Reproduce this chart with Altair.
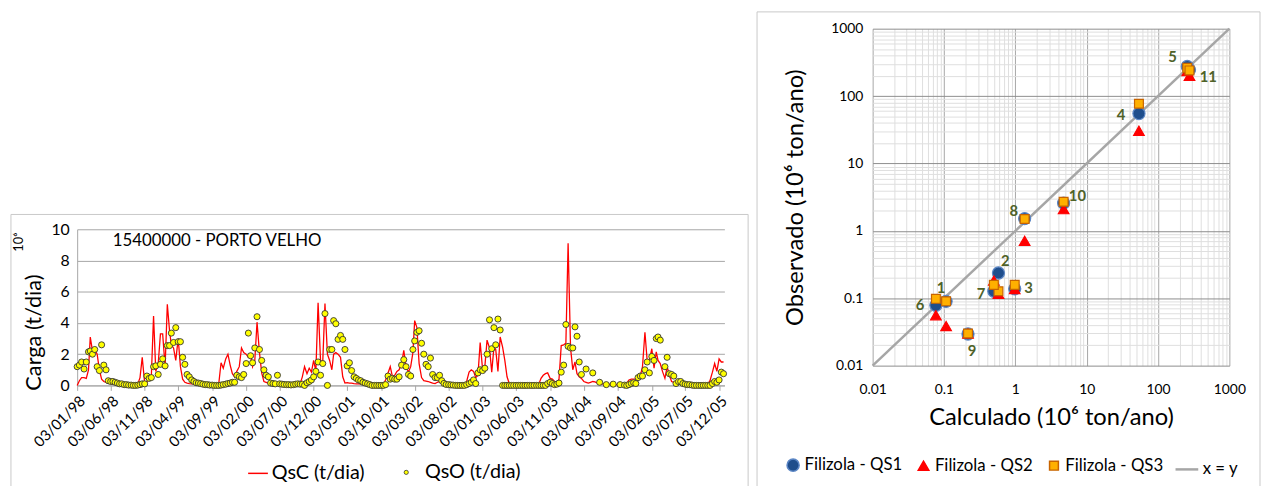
import altair as alt
import pandas as pd

# ---------------- Left chart: daily load, Porto Velho ----------------
station_title = "15400000 - PORTO VELHO"
exp_label = "10\u2076"
tick_labels = ["03/01/98", "03/06/98", "03/11/98", "03/04/99", "03/09/99", "03/02/00",
               "03/07/00", "03/12/00", "03/05/01", "03/10/01", "03/03/02", "03/08/02",
               "03/01/03", "03/06/03", "03/11/03", "03/04/04", "03/09/04", "03/02/05",
               "03/07/05", "03/12/05"]

# QsC (calculated), three readings per month (days 3, 13, 23), 10^6 t/dia
qsc_1998 = [0.0, 0.3, 0.5, 0.5, 0.45, 1.0, 3.1, 2.2, 2.3, 2.0, 1.0, 0.4,
            0.25, 0.2, 0.15, 0.12, 0.1, 0.1, 0.08, 0.06, 0.05, 0.05, 0.05, 0.05,
            0.05, 0.05, 0.08, 0.1, 0.5, 1.8, 0.15, 0.2, 0.55, 0.6, 4.45, 0.9]
qsc_1999 = [1.4, 3.3, 3.3, 1.2, 5.2, 3.5, 2.6, 2.4, 1.6, 3.0, 1.2, 0.4,
            0.2, 0.15, 0.12, 0.1, 0.1, 0.08, 0.08, 0.06, 0.05, 0.05, 0.05, 0.05,
            0.05, 0.05, 0.1, 0.15, 1.45, 1.1, 1.7, 2.0, 1.3, 0.75, 0.55, 0.9]
qsc_2000 = [1.2, 2.4, 2.1, 2.0, 1.8, 1.9, 1.2, 1.6, 4.05, 2.1, 0.8, 0.25,
            0.2, 0.15, 0.15, 0.12, 0.12, 0.1, 0.1, 0.08, 0.08, 0.06, 0.05, 0.05,
            0.05, 0.05, 0.05, 0.1, 0.55, 1.2, 0.75, 1.1, 0.85, 1.6, 0.9, 5.3]
qsc_2001 = [1.6, 1.5, 5.25, 2.0, 1.6, 1.0, 2.0, 2.1, 2.0, 1.8, 0.55, 0.15,
            0.18, 0.15, 0.15, 0.12, 0.1, 0.1, 0.08, 0.08, 0.06, 0.06, 0.05, 0.05,
            0.05, 0.05, 0.05, 0.06, 0.1, 0.35, 0.8, 1.2, 0.55, 0.65, 0.9, 1.0]
qsc_2002 = [1.4, 2.25, 1.2, 0.85, 1.2, 2.1, 4.15, 3.7, 1.4, 0.5, 0.3, 0.28,
            0.25, 0.2, 0.15, 0.12, 0.2, 0.25, 0.15, 0.1, 0.08, 0.06, 0.05, 0.05,
            0.05, 0.05, 0.05, 0.05, 0.1, 0.25, 0.85, 1.0, 0.9, 0.5, 0.65, 2.75]
qsc_2003 = [1.0, 1.2, 2.9, 2.4, 0.85, 2.45, 2.3, 0.9, 3.1, 2.45, 1.6, 0.55,
            0.12, 0.05, 0.05, 0.05, 0.05, 0.05, 0.05, 0.05, 0.05, 0.05, 0.05, 0.15,
            0.1, 0.08, 0.45, 0.65, 0.75, 0.8, 0.45, 0.4, 0.25, 0.15, 0.4, 2.55]
qsc_2004 = [2.6, 2.7, 9.1, 2.4, 1.0, 1.5, 0.75, 0.55, 0.45, 0.25, 0.2, 0.15,
            0.2, 0.25, 0.22, 0.15, 0.12, 0.1, 0.08, 0.08, 0.08, 0.06, 0.06, 0.05,
            0.05, 0.05, 0.05, 0.08, 0.15, 0.35, 0.4, 0.4, 0.42, 0.45, 0.6, 1.2]
qsc_2005 = [3.4, 1.6, 1.6, 2.35, 1.1, 2.15, 1.6, 1.4, 0.9, 0.45, 1.2, 0.65,
            0.25, 0.2, 0.18, 0.17, 0.15, 0.12, 0.1, 0.1, 0.08, 0.08, 0.06, 0.05,
            0.05, 0.05, 0.05, 0.05, 0.1, 0.3, 0.85, 1.4, 0.9, 1.7, 1.5, 1.5]

# QsO (observed), same dates; None = no observation
qso_1998 = [1.2, 1.3, 1.5, 1.05, 1.5, 2.15, 2.2, 2.0, 2.3, 1.2, 0.95, 2.6,
            1.3, 1.0, 0.3, 0.25, 0.25, 0.2, 0.15, 0.1, 0.1, 0.05, 0.05, 0.02,
            0.02, 0.0, 0.0, 0.02, 0.05, 0.1, 0.1, 0.6, 0.45, 0.5, 1.2, 1.25]
qso_1999 = [0.7, 1.35, 1.7, 1.25, 2.55, 2.55, 3.35, 2.75, 3.7, 2.8, 2.8, 1.8,
            1.35, 0.7, 0.55, 0.35, 0.25, 0.17, 0.15, 0.12, 0.08, 0.05, 0.05, 0.02,
            0.02, 0.0, 0.0, 0.0, 0.02, 0.05, 0.08, 0.12, 0.15, 0.2, 0.2, 0.65]
qso_2000 = [0.55, 0.5, 0.7, 1.4, 3.35, 1.9, 1.45, 2.4, 4.4, 2.3, 1.6, 1.0,
            0.65, 0.55, 0.15, 0.12, 0.1, 0.65, 0.1, 0.08, 0.06, 0.05, 0.05, 0.03,
            0.05, 0.08, 0.1, 0.08, 0.08, 0.0, 0.17, 0.25, 0.35, 0.55, 0.9, 1.5]
qso_2001 = [0.65, 1.4, 4.6, 0.0, 2.3, 2.3, 4.15, 3.95, 2.95, 3.2, 2.95, 2.3,
            1.25, 1.45, 0.95, 0.55, 0.45, 0.35, 0.3, 0.2, 0.15, 0.1, 0.05, 0.0,
            0.0, 0.0, 0.0, 0.0, 0.0, 0.05, 0.6, 0.4, 0.45, 0.4, 0.4, 0.55]
qso_2002 = [1.3, 1.65, 1.2, 0.7, 0.6, 2.3, 2.85, 3.4, 3.5, 2.7, 2.0, 1.35,
            1.2, 1.75, 0.7, 0.5, 0.5, 0.65, 0.3, 0.13, 0.06, 0.05, 0.03, 0.02,
            0.0, 0.0, 0.0, 0.0, 0.0, 0.05, 0.12, 0.2, 0.35, 0.12, 0.8, 1.0]
qso_2003 = [0.95, 1.1, 2.0, 4.2, 2.35, 3.7, 2.6, 4.25, 3.55, 0.0, 0.0, 0.0,
            0.0, 0.0, 0.0, 0.0, 0.0, 0.0, 0.0, 0.0, 0.0, 0.0, 0.0, 0.0,
            0.0, 0.0, 0.0, 0.0, 0.0, 0.12, 0.2, 0.12, 0.05, 0.08, 0.15, 0.85]
qso_2004 = [1.3, 3.9, 2.5, 2.4, 2.4, 3.75, 3.15, 1.5, 0.7, None, 1.05, None,
            None, 0.8, None, None, 0.2, None, None, 0.05, None, None, 0.08, None,
            None, 0.05, None, 0.02, 0.0, 0.05, 0.12, 0.17, 0.12, 0.5, 0.6, 0.6]
qso_2005 = [1.0, 1.5, 0.8, 1.85, 1.6, 3.0, 3.1, 2.9, None, 1.2, 1.8, 0.75,
            0.7, 0.6, 0.12, 0.25, 0.25, 0.12, 0.08, 0.05, 0.05, 0.02, 0.0, 0.0,
            0.0, 0.0, 0.0, 0.0, 0.0, 0.0, 0.12, 0.25, 0.2, 0.35, 0.85, 0.75]

qsc = qsc_1998 + qsc_1999 + qsc_2000 + qsc_2001 + qsc_2002 + qsc_2003 + qsc_2004 + qsc_2005
qso = qso_1998 + qso_1999 + qso_2000 + qso_2001 + qso_2002 + qso_2003 + qso_2004 + qso_2005


def slot_date(j):
    return pd.Timestamp(year=1998 + j // 36, month=(j % 36) // 3 + 1, day=(3, 13, 23)[j % 3])


def label_to_dt(s):
    d, m, y = (int(v) for v in s.split("/"))
    return alt.DateTime(year=(2000 + y if y < 50 else 1900 + y), month=m, date=d)


left_df = pd.DataFrame({
    "data": [slot_date(j) for j in range(len(qsc))],
    "qsc": qsc,
    "qso": qso,
    "s1": "QsC (t/dia)",
    "s2": "QsO (t/dia)",
})

x_left = dict(
    title=None,
    scale=alt.Scale(domain=[alt.DateTime(year=1998, month=1, date=3),
                            alt.DateTime(year=2005, month=12, date=27)]),
    axis=alt.Axis(values=[label_to_dt(s) for s in tick_labels], format="%d/%m/%y",
                  labelAngle=315, labelAlign="right", labelBaseline="top",
                  labelFontSize=15, labelPadding=3, labelOverlap=False, labelFlush=False,
                  grid=False, domainColor="#a6a6a6", tickColor="#a6a6a6", tickSize=5),
)
y_left_axis = alt.Axis(values=[0, 2, 4, 6, 8, 10], gridColor="#a6a6a6", domainColor="#a6a6a6",
                       ticks=False, labelFontSize=16, labelPadding=8,
                       title="Carga (t/dia)", titleFontSize=22, titleFontWeight="normal",
                       titlePadding=6, titleY=104)
y_left_scale = alt.Scale(domain=[0, 10])

base_left = alt.Chart(left_df)
line_left = base_left.mark_line(strokeWidth=1.3).encode(
    x=alt.X("data:T", **x_left),
    y=alt.Y("qsc:Q", scale=y_left_scale, axis=y_left_axis),
    stroke=alt.Stroke("s1:N", scale=alt.Scale(domain=["QsC (t/dia)"], range=["#ff0000"]),
                      legend=alt.Legend(title=None, orient="none", legendX=172, legendY=236,
                                        symbolType="stroke", symbolSize=400, symbolStrokeWidth=1.5,
                                        labelFontSize=20, labelOffset=3, padding=0)),
)
pts_left = base_left.mark_point(filled=True, size=38, stroke="#333333", strokeWidth=0.9, opacity=1).encode(
    x=alt.X("data:T", **x_left),
    y=alt.Y("qso:Q", scale=y_left_scale, axis=y_left_axis),
    fill=alt.Fill("s2:N", scale=alt.Scale(domain=["QsO (t/dia)"], range=["#ffff00"]),
                  legend=alt.Legend(title=None, orient="none", legendX=323, legendY=236,
                                    symbolType="circle", symbolSize=18, symbolStrokeColor="#333333",
                                    symbolStrokeWidth=0.8, labelFontSize=20, labelOffset=9, padding=0)),
)
one = pd.DataFrame({"t": [station_title], "e": [exp_label]})
title_left = alt.Chart(one).mark_text(align="left", baseline="middle", fontSize=17).encode(
    x=alt.value(36), y=alt.value(12), text="t:N")
exp_left = alt.Chart(one).mark_text(align="center", baseline="middle", fontSize=13, angle=270).encode(
    x=alt.value(-59), y=alt.value(13), text="e:N")
box_left = alt.Chart(one).mark_rect(fill=None, stroke="#c8c8c8", strokeWidth=1).encode(
    x=alt.value(-67), x2=alt.value(679), y=alt.value(-15), y2=alt.value(262))

left_chart = alt.layer(box_left, line_left, pts_left, title_left, exp_left).properties(width=655, height=158)

spacer = alt.Chart(one).mark_text(text="").encode(x=alt.value(0), y=alt.value(0)).properties(
    width=655, height=193, view=alt.ViewBackground(stroke="transparent", strokeWidth=0))

# ---------------- Right chart: calculated vs observed ----------------
pontos = ["1", "2", "3", "4", "5", "6", "7", "8", "9", "10", "11"]
calculado = [0.107, 0.58, 0.98, 54, 257, 0.077, 0.50, 1.35, 0.217, 4.75, 276]
obs_qs1 = [0.090, 0.237, 0.138, 55, 275, 0.0785, 0.127, 1.52, 0.0295, 2.58, 245]
obs_qs2 = [0.0386, 0.116, 0.137, 30.6, 235, 0.056, 0.183, 0.71, 0.030, 2.1, 200]
obs_qs3 = [0.090, 0.127, 0.158, 77, 262, 0.098, 0.158, 1.5, 0.030, 2.7, 240]
series = ["Filizola - QS1", "Filizola - QS2", "Filizola - QS3"]
ref_line = [0.01, 1000]
decade_labels = ["0.01", "0.1", "1", "10", "100", "1000"]

# label placement (pixels) around the QS1 point
label_dx = [-5, 7, 14, -18, -15, -16, -13, -11, 4, 14, 19]
label_dy = [-13, -12, -1, 2, -10, 0, 3, -8, 17, -7, 7]

rows = []
for s, obs in zip(series, [obs_qs1, obs_qs2, obs_qs3]):
    for p, c, o in zip(pontos, calculado, obs):
        rows.append({"ponto": p, "calc": c, "obs": o, "serie": s})
pts_df = pd.DataFrame(rows)
lab_df = pd.DataFrame({"ponto": pontos, "calc": calculado, "obs": obs_qs1})
ref_df = pd.DataFrame({"v": ref_line, "nome": "x = y"})

grid_vals = []
for lab in decade_labels[:-1]:
    d = float(lab)
    grid_vals += [k * d for k in range(1, 10)]
grid_vals.append(float(decade_labels[-1]))

is_major = "abs(log(datum.value)/LN10 - round(log(datum.value)/LN10)) < 0.001"
lab_expr = is_major + " ? format(datum.value, '~g') : ''"

x_axis_r = alt.Axis(values=grid_vals, labelExpr=lab_expr, labelOverlap=False, labelFlush=False,
                    gridColor={"condition": {"test": is_major, "value": "#a6a6a6"}, "value": "#dedede"},
                    ticks=False, domain=False, labelFontSize=14, labelPadding=17,
                    title="Calculado (10\u2076 ton/ano)", titleFontSize=24, titleFontWeight="normal",
                    titlePadding=10)
y_axis_r = alt.Axis(values=grid_vals, labelExpr=lab_expr, labelOverlap=False, labelFlush=False,
                    gridColor={"condition": {"test": is_major, "value": "#8c8c8c"}, "value": "#dedede"},
                    ticks=False, domain=False, labelFontSize=14, labelPadding=10,
                    title="Observado (10\u2076 ton/ano)", titleFontSize=24, titleFontWeight="normal",
                    titlePadding=24)
log_scale = alt.Scale(type="log", domain=[0.01, 1000])

ref_r = alt.Chart(ref_df).mark_line(strokeWidth=2.5).encode(
    x=alt.X("v:Q", scale=log_scale, axis=x_axis_r),
    y=alt.Y("v:Q", scale=log_scale, axis=y_axis_r),
    color=alt.Color("nome:N", scale=alt.Scale(domain=["x = y"], range=["#a6a6a6"]),
                    legend=alt.Legend(title=None, orient="none", legendX=305, legendY=433,
                                      symbolType="stroke", symbolSize=529, symbolStrokeWidth=2.5,
                                      labelFontSize=17, labelOffset=3, padding=0)),
)
leg_pts = alt.Legend(title=None, orient="none", legendX=-89, legendY=433, direction="horizontal",
                     labelFontSize=17, columnPadding=12, labelOffset=3, padding=0)
pts_r = alt.Chart(pts_df).mark_point(filled=True, opacity=1, strokeWidth=1.2).encode(
    x=alt.X("calc:Q", scale=log_scale, axis=x_axis_r),
    y=alt.Y("obs:Q", scale=log_scale, axis=y_axis_r),
    fill=alt.Fill("serie:N", scale=alt.Scale(domain=series, range=["#1f4e8c", "#ff0000", "#ffb000"]), legend=leg_pts),
    stroke=alt.Stroke("serie:N", scale=alt.Scale(domain=series, range=["#5b86c5", "#ff0000", "#c86400"]), legend=leg_pts),
    shape=alt.Shape("serie:N", scale=alt.Scale(domain=series, range=["circle", "triangle-up", "square"]), legend=leg_pts),
    size=alt.Size("serie:N", scale=alt.Scale(domain=series, range=[150, 80, 30]), legend=leg_pts),
)
label_layers = []
for p, ddx, ddy in zip(pontos, label_dx, label_dy):
    label_layers.append(
        alt.Chart(lab_df).transform_filter(alt.datum.ponto == p).mark_text(
            fontSize=15, fontWeight="bold", color="#4f6228", dx=ddx, dy=ddy
        ).encode(
            x=alt.X("calc:Q", scale=log_scale, axis=x_axis_r),
            y=alt.Y("obs:Q", scale=log_scale, axis=y_axis_r),
            text="ponto:N",
        )
    )
box_right = alt.Chart(one).mark_rect(fill=None, stroke="#c8c8c8", strokeWidth=1).encode(
    x=alt.value(-117), x2=alt.value(392), y=alt.value(-17), y2=alt.value(470))

right_chart = alt.layer(box_right, ref_r, pts_r, *label_layers).properties(width=361, height=341)

left_col = alt.vconcat(spacer, left_chart, spacing=10, bounds="flush").resolve_scale(
    fill="independent", stroke="independent")

chart = alt.hconcat(left_col, right_chart, spacing=805, bounds="flush").resolve_scale(
    fill="independent", stroke="independent", shape="independent", size="independent",
    color="independent",
).properties(
    padding={"left": 2, "top": 0, "right": 0, "bottom": 0}
).configure(font="Lato").configure_view(stroke="transparent", strokeWidth=0).configure_axis(
    labelColor="black", titleColor="black", labelFont="Lato", titleFont="Lato"
).configure_legend(labelColor="black", labelFont="Lato")

chart.save("out.html", embed_options={"renderer": "svg", "actions": False})
